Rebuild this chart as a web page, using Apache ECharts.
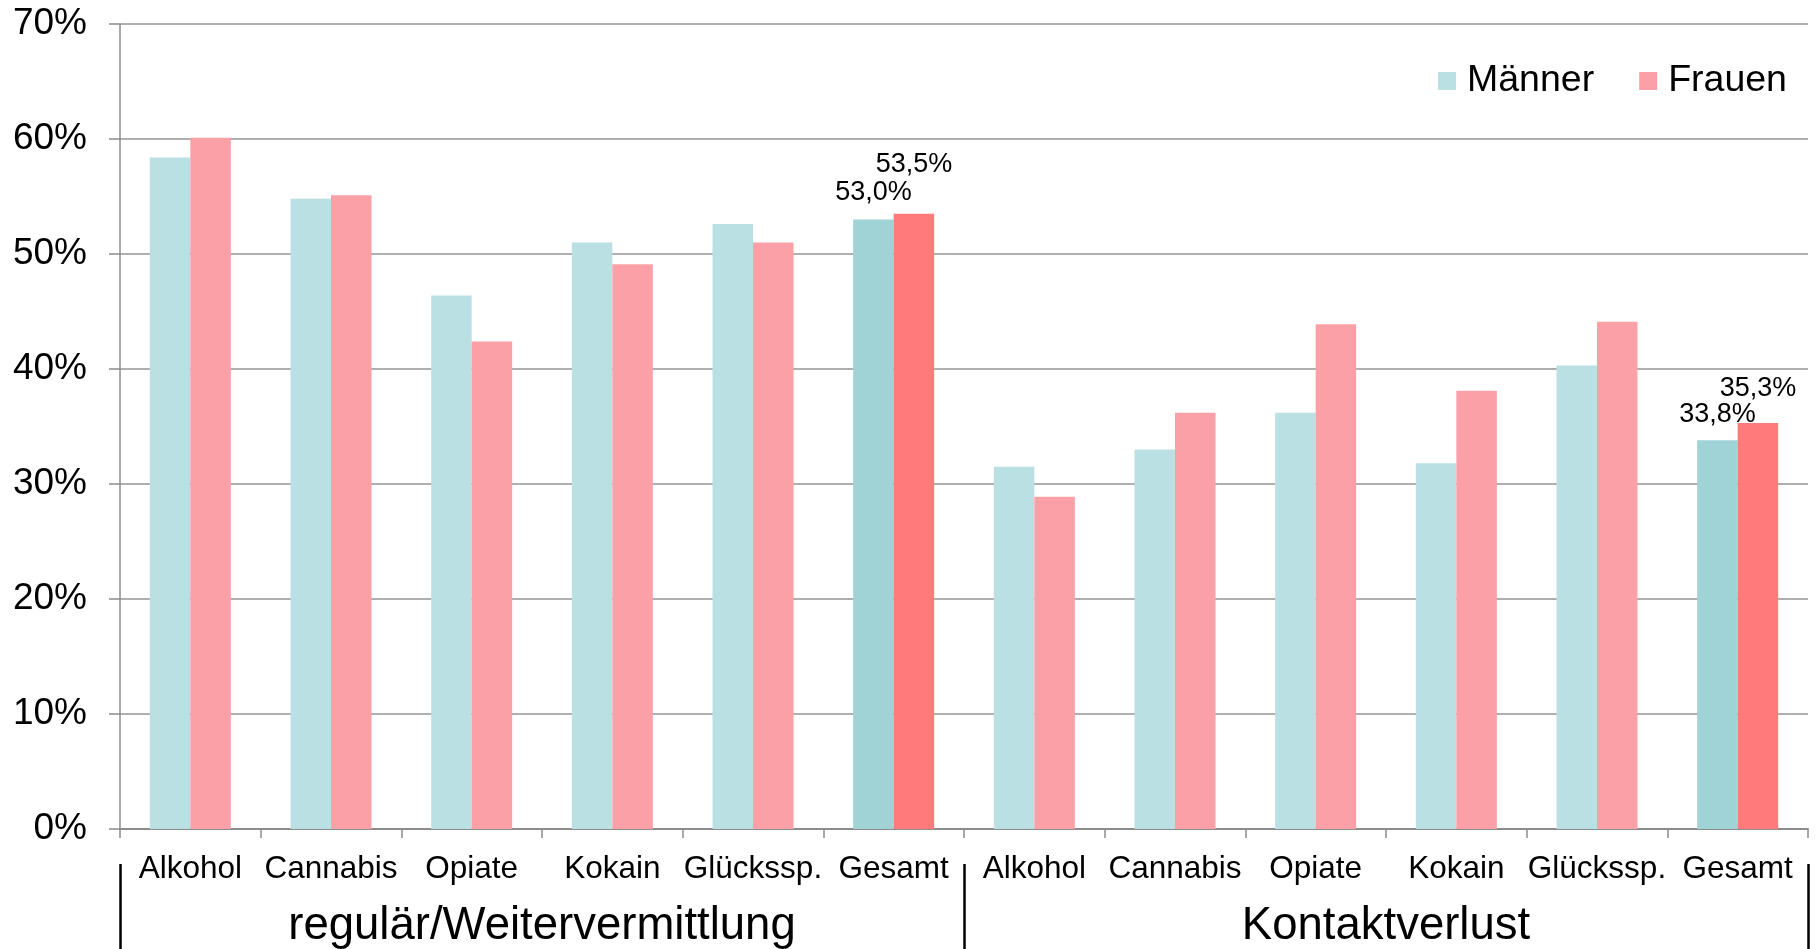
<!DOCTYPE html>
<html>
<head>
<meta charset="utf-8">
<script src="https://cdn.jsdelivr.net/npm/echarts@6/dist/echarts.min.js"></script>
<style>
html,body{margin:0;padding:0;background:#fff;}
#chart{width:1816px;height:949px;}
</style>
</head>
<body>
<div id="chart"></div>
<script>
// ---- data ----
const categories = ['Alkohol','Cannabis','Opiate','Kokain','Glückssp.','Gesamt','Alkohol','Cannabis','Opiate','Kokain','Glückssp.','Gesamt'];
const groups = ['regulär/Weitervermittlung','Kontaktverlust'];
const maenner = [58.4, 54.8, 46.4, 51.0, 52.6, 53.0, 31.5, 33.0, 36.2, 31.8, 40.3, 33.8];
const frauen  = [60.1, 55.1, 42.4, 49.1, 51.0, 53.5, 28.9, 36.2, 43.9, 38.1, 44.1, 35.3];
const seriesNames = ['Männer','Frauen'];
const yTicks = [0,10,20,30,40,50,60,70];
const totalIdx = [5, 11];

// ---- styles ----
const FONT = "'Liberation Sans', Arial, sans-serif";
const colM = '#bae0e3', colF = '#fca0a8';
const colMdark = '#9fd3d6', colFdark = '#ff7a7a';
const fmt = v => v.toFixed(1).replace('.', ',') + '%';

function build(vals, base, dark, dists) {
  return vals.map((v, i) => {
    const k = totalIdx.indexOf(i);
    if (k < 0) return { value: v, itemStyle: { color: base } };
    return {
      value: v,
      itemStyle: { color: dark },
      label: {
        show: true, position: 'top', distance: dists[k],
        formatter: p => fmt(p.value),
        fontFamily: FONT, fontSize: 27, color: '#000'
      }
    };
  });
}

const chart = echarts.init(document.getElementById('chart'), null, {renderer: 'canvas'});
chart.setOption({
  animation: false,
  backgroundColor: '#fff',
  textStyle: { fontFamily: FONT },
  grid: { left: 120, right: 8, top: 24, bottom: 120, containLabel: false },
  legend: {
    data: seriesNames,
    left: 1433, top: 57,
    icon: 'rect', itemWidth: 18, itemHeight: 18, itemGap: 45,
    textStyle: { fontFamily: FONT, fontSize: 37.5, color: '#000', padding: [0,0,0,6] }
  },
  xAxis: [
    {
      type: 'category', data: categories, position: 'bottom',
      axisLine: { show: true, lineStyle: { color: '#8c8c8c', width: 2 } },
      axisTick: { show: true, length: 9, lineStyle: { color: '#8c8c8c', width: 1.5 } },
      axisLabel: { fontFamily: FONT, fontSize: 31.5, color: '#000', margin: 24, interval: 0 },
      splitLine: { show: false }
    },
    {
      type: 'category', data: groups, position: 'bottom', offset: 35,
      axisLine: { show: false },
      axisTick: { show: true, length: 85, lineStyle: { color: '#000', width: 2.5 } },
      axisLabel: { fontFamily: FONT, fontSize: 45.5, color: '#000', margin: 39, interval: 0 },
      splitLine: { show: false }
    }
  ],
  yAxis: {
    type: 'value', min: yTicks[0], max: yTicks[yTicks.length-1], interval: 10,
    axisLine: { show: true, lineStyle: { color: '#8c8c8c', width: 1.5 } },
    axisTick: { show: true, length: 11, lineStyle: { color: '#8c8c8c', width: 1.5 } },
    axisLabel: { fontFamily: FONT, fontSize: 37, color: '#000', margin: 33, formatter: '{value}%' },
    splitLine: { show: true, lineStyle: { color: '#959595', width: 1.5 } }
  },
  series: [
    {
      name: seriesNames[0], type: 'bar', xAxisIndex: 0, barWidth: 40.5, barGap: '0%',
      itemStyle: { color: colM },
      data: build(maenner, colM, colMdark, [13, 12])
    },
    {
      name: seriesNames[1], type: 'bar', xAxisIndex: 0, barWidth: 40.5, barGap: '0%',
      itemStyle: { color: colF },
      data: build(frauen, colF, colFdark, [36, 21])
    }
  ]
});
</script>
</body>
</html>
